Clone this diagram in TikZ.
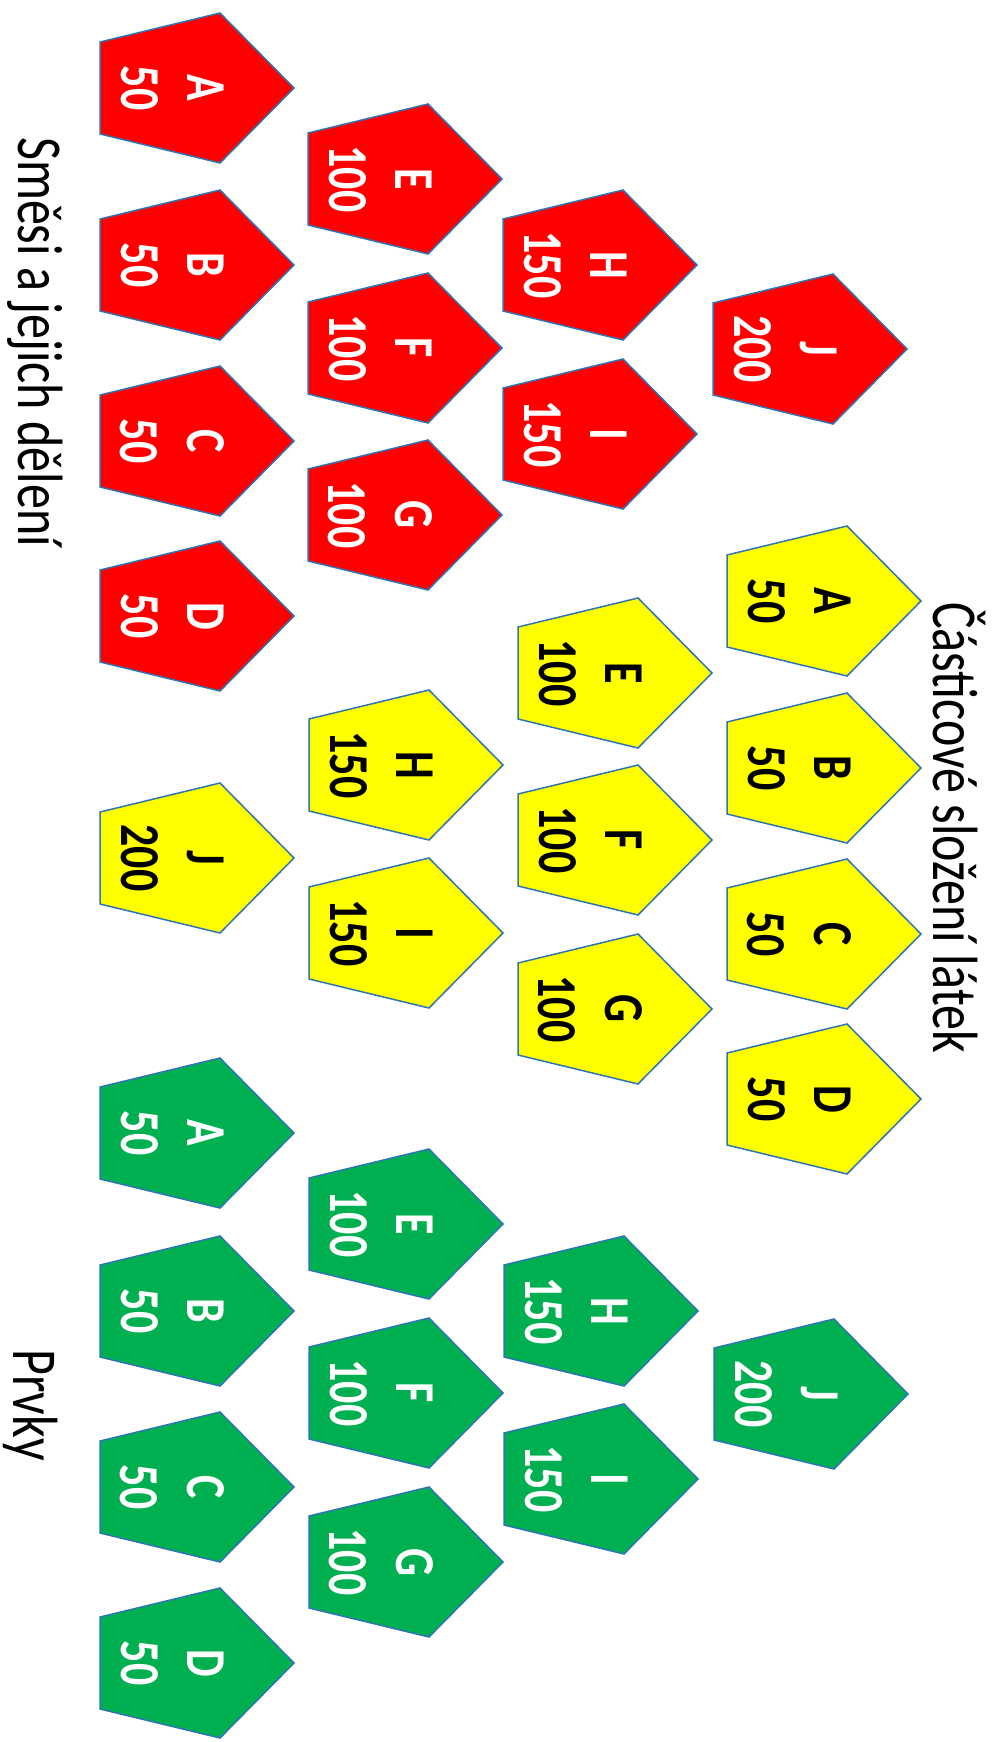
\documentclass[tikz,border=0pt]{standalone}
\usepackage{fontspec}
\setmainfont{Carlito}
\definecolor{edge}{HTML}{2E75B6}
\definecolor{pred}{HTML}{FF0000}
\definecolor{pyel}{HTML}{FFFF00}
\definecolor{pgrn}{HTML}{00B050}
\tikzset{
  lbl/.style={rotate=-90, yscale=1.28, align=center, inner sep=0pt,
    font=\fontsize{44}{52}\selectfont\bfseries},
  ttl/.style={rotate=-90, yscale=1.28, anchor=base west, inner sep=0pt,
    font=\fontsize{50}{60}\selectfont},
  pentshape/.style={draw=edge, line width=1.5pt}
}
% name, left x, top y, fill, text colour, text
\newcommand\pent[6]{%
  \path[pentshape, fill=#4] (#2,#3+29) -- (#2+120,#3) -- (#2+194,#3+75)
     -- (#2+120,#3+150) -- (#2,#3+121) -- cycle;
  \node[lbl, text=#5] (#1) at (#2+72.5,#3+75) {#6};
}
\begin{document}
\begin{tikzpicture}[x=1pt,y=-1pt]
\useasboundingbox (0,0) rectangle (1001,1742);
% red group
\pent{rA}{100}{13}{pred}{white}{A\\50}
\pent{rB}{100}{190}{pred}{white}{B\\50}
\pent{rC}{100}{366}{pred}{white}{C\\50}
\pent{rD}{100}{541}{pred}{white}{D\\50}
\pent{rE}{308}{104}{pred}{white}{E\\100}
\pent{rF}{308}{273}{pred}{white}{F\\100}
\pent{rG}{308}{440}{pred}{white}{G\\100}
\pent{rH}{503}{190}{pred}{white}{H\\150}
\pent{rI}{503}{359}{pred}{white}{I\\150}
\pent{rJ}{713}{274}{pred}{white}{J\\200}
% yellow group
\pent{yA}{727}{526}{pyel}{black}{A\\50}
\pent{yB}{727}{693}{pyel}{black}{B\\50}
\pent{yC}{727}{859}{pyel}{black}{C\\50}
\pent{yD}{727}{1024}{pyel}{black}{D\\50}
\pent{yE}{518}{598}{pyel}{black}{E\\100}
\pent{yF}{518}{765}{pyel}{black}{F\\100}
\pent{yG}{518}{934}{pyel}{black}{G\\100}
\pent{yH}{309}{690}{pyel}{black}{H\\150}
\pent{yI}{309}{858}{pyel}{black}{I\\150}
\pent{yJ}{100}{783}{pyel}{black}{J\\200}
% green group
\pent{gA}{100}{1058}{pgrn}{white}{A\\50}
\pent{gB}{100}{1236}{pgrn}{white}{B\\50}
\pent{gC}{100}{1412}{pgrn}{white}{C\\50}
\pent{gD}{100}{1588}{pgrn}{white}{D\\50}
\pent{gE}{309}{1149}{pgrn}{white}{E\\100}
\pent{gF}{309}{1318}{pgrn}{white}{F\\100}
\pent{gG}{309}{1487}{pgrn}{white}{G\\100}
\pent{gH}{504}{1236}{pgrn}{white}{H\\150}
\pent{gI}{504}{1404}{pgrn}{white}{I\\150}
\pent{gJ}{714}{1319}{pgrn}{white}{J\\200}
% titles
\node[ttl] (t1) at (18,137) {Směsi a jejich dělení};
\node[ttl] (t2) at (933,602) {Částicové složení látek};
\node[ttl] (t3) at (13,1349) {Prvky};
\end{tikzpicture}
\end{document}
